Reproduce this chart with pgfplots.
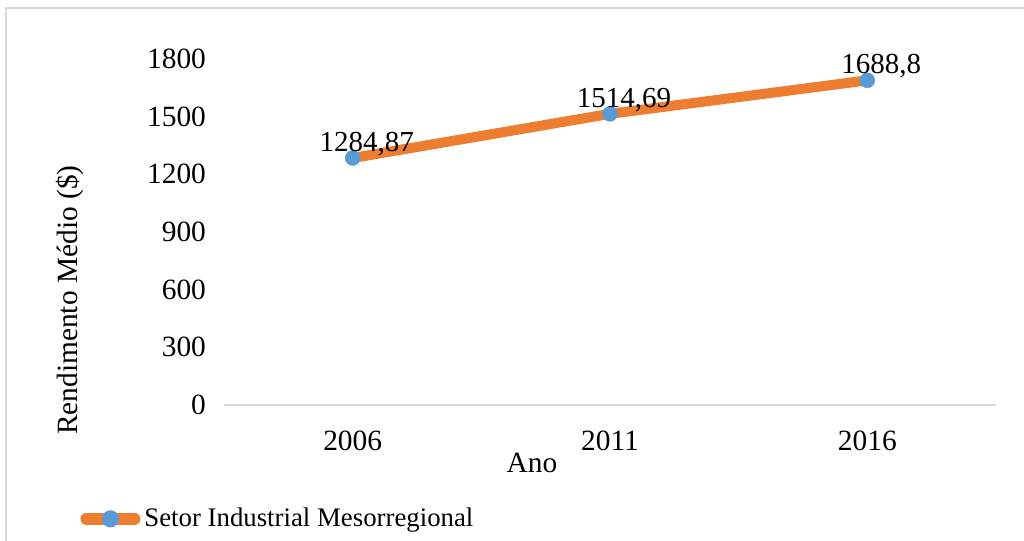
\documentclass[border=0pt]{standalone}
\usepackage{fontspec}
\setmainfont{Liberation Serif}
\usepackage{pgfplots}
\pgfplotsset{compat=1.18}
\definecolor{xlorange}{HTML}{ED7D31}
\definecolor{xlblue}{HTML}{5B9BD5}
\definecolor{xlgray}{HTML}{D9D9D9}
\begin{document}
\begin{tikzpicture}[x=1pt,y=1pt,font=\fontsize{14.7}{17}\selectfont]
\useasboundingbox (0,0) rectangle (512,270.5);
\clip (0,0) rectangle (512,270.5);
\draw[color=xlgray, line width=0.75pt] (3,-10) -- (3,266.5) -- (530,266.5);
\begin{axis}[
  at={(112pt,68pt)}, anchor=south west,
  scale only axis, width=386pt, height=173pt,
  xmin=-0.5, xmax=2.5, ymin=0, ymax=1800,
  ytick={0,300,...,1800},
  xtick={0,1,2}, xticklabels={2006,2011,2016},
  /pgf/number format/assume math mode=true,
  /pgf/number format/1000 sep={},
  axis x line*=bottom, axis y line*=left,
  x axis line style={draw=xlgray, line width=0.75pt, -},
  y axis line style={draw=none},
  major tick length=0pt,
  xticklabel style={anchor=base, yshift=-23pt},
  yticklabel style={anchor=east, xshift=-5.5pt},
  clip=false,
  ylabel={Rendimento Médio (\$)},
  xlabel={Ano},
  every axis y label/.style={at={(axis description cs:-0.1995,0.303)}, rotate=90, anchor=center},
  every axis x label/.style={at={(axis description cs:0.399,-0.168)}, anchor=center},
  legend style={at={(axis description cs:-0.1865,-0.329)}, anchor=west, draw=none, fill=none, inner sep=0pt, font=\fontsize{13.4}{16}\selectfont},
  legend cell align=left,
  legend image code/.code={
    \draw[xlorange, line width=5.8pt, line cap=round, fill=none] (2.9pt,0pt) -- (27.1pt,0pt);
    \path[fill=xlblue, draw=none] (15pt,0pt) circle (4.3pt);
  },
]
\addplot[color=xlorange, line width=5pt, line cap=round,
  mark=*, mark size=3.8pt, mark options={fill=xlblue, draw=xlblue, line width=0.1pt},
  nodes near coords, point meta=explicit symbolic,
  every node near coord/.style={anchor=center, xshift=7pt, yshift=7pt, text=black, font=\fontsize{14.5}{17}\selectfont}]
  table[meta=lab] {
x y lab
0 1284.87 1284,87
1 1514.69 1514,69
2 1688.8 1688,8
};
\addlegendentry{Setor Industrial Mesorregional}
\end{axis}
\end{tikzpicture}
\end{document}
